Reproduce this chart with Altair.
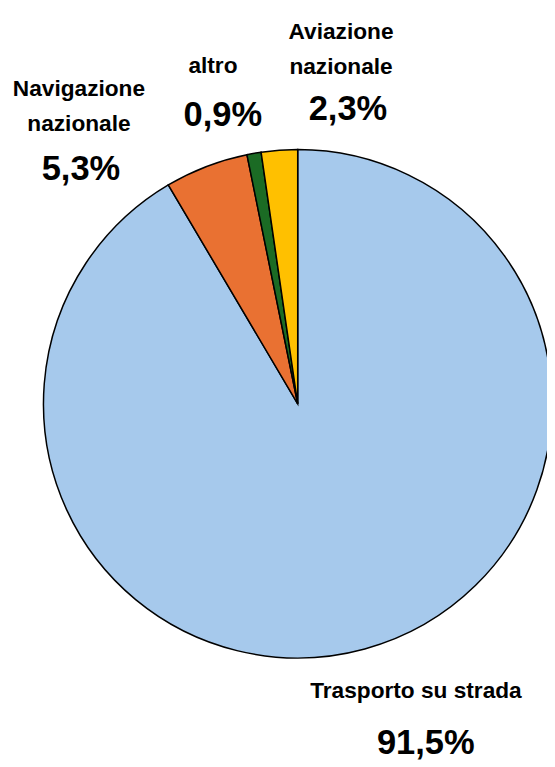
import altair as alt
import pandas as pd

categories = ["Trasporto su strada", "Navigazione nazionale", "altro", "Aviazione nazionale"]
values = [91.5, 5.3, 0.9, 2.3]
name_labels = ["Trasporto su strada", "Navigazione\nnazionale", "altro", "Aviazione\nnazionale"]
pct_labels = ["91,5%", "5,3%", "0,9%", "2,3%"]
colors = ["#A6C9EC", "#E97132", "#1B6B24", "#FFC000"]

df = pd.DataFrame({
    "cat": categories,
    "val": values,
    "name": name_labels,
    "pct": pct_labels,
    "idx": list(range(len(categories))),
})

FONT = "Liberation Sans, Arial, sans-serif"

base = alt.Chart(df)

pie = base.mark_arc(radius=258, stroke="black", strokeWidth=1.5).encode(
    theta=alt.Theta("val:Q", stack=True),
    order=alt.Order("idx:Q"),
    color=alt.Color("cat:N", scale=alt.Scale(domain=categories, range=colors), legend=None),
)

# label placement (chart coordinates): (name x, name y, pct x, pct y)
label_pos = {
    "Trasporto su strada": (373, 662, 383, 718),
    "Navigazione nazionale": (31, 51, 33, 136),
    "altro": (167, 27, 177, 81),
    "Aviazione nazionale": (297, -7, 304, 75),
}

layers = [pie]
for cat, (nx, ny, px, py) in label_pos.items():
    sub = base.transform_filter(alt.datum.cat == cat)
    layers.append(
        sub.mark_text(x=nx, y=ny, align="center", baseline="alphabetic", font=FONT,
                      fontWeight="bold", fontSize=23, lineBreak="\n", lineHeight=35,
                      color="black").encode(text="name:N")
    )
    layers.append(
        sub.mark_text(x=px, y=py, align="center", baseline="alphabetic", font=FONT,
                      fontWeight="bold", fontSize=35, color="black").encode(text="pct:N")
    )

chart = alt.layer(*layers).properties(
    width=506, height=726,
    autosize=alt.AutoSizeParams(type="none"),
    padding={"left": 41, "top": 33, "right": 0, "bottom": 0},
).configure_view(stroke=None)

chart.save("out.html", embed_options={"renderer": "svg", "actions": False})
